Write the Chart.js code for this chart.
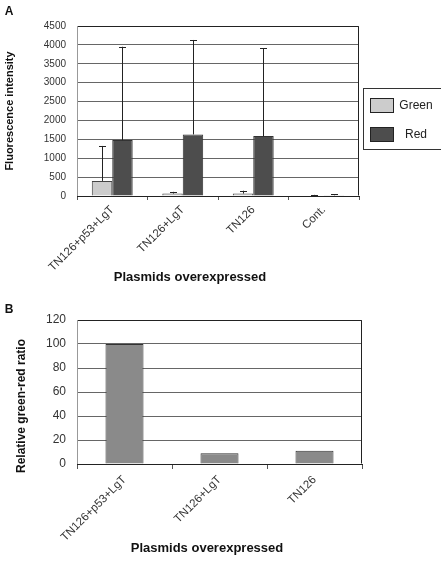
<!DOCTYPE html>
<html>
<head>
<meta charset="utf-8">
<script src="https://cdn.jsdelivr.net/npm/chart.js@4.4.1/dist/chart.umd.min.js"></script>
<style>
  html, body { margin: 0; padding: 0; background: #fff; }
  .panel { position: absolute; left: 0; width: 441px; }
  #panelA { top: 0; height: 292px; }
  #panelB { top: 293px; height: 268px; }
</style>
</head>
<body>
<div class="panel" id="panelA"><canvas id="chartA"></canvas></div>
<div class="panel" id="panelB"><canvas id="chartB"></canvas></div>
<script>
// panel A
const categoriesA = ['TN126+p53+LgT', 'TN126+LgT', 'TN126', 'Cont.'];
const greenValues = [400, 65, 65, 15];
const greenErrors = [925, 45, 75, 15];
const redValues = [1480, 1630, 1585, 20];
const redErrors = [2470, 2500, 2325, 20];
const ticksA = [0, 500, 1000, 1500, 2000, 2500, 3000, 3500, 4000, 4500];

// panel B
const categoriesB = ['TN126+p53+LgT', 'TN126+LgT', 'TN126'];
const ratioValues = [100, 9, 11];
const ticksB = [0, 20, 40, 60, 80, 100, 120];

const FONT = "'Liberation Sans', Arial, sans-serif";
Chart.defaults.font.family = FONT;
Chart.defaults.color = '#333';

// upper error whiskers, computed through the value scale
const errorBars = {
    id: 'errorBars',
    afterDatasetsDraw(chart) {
        const { ctx } = chart;
        const yScale = chart.scales.y;
        chart.data.datasets.forEach((ds, i) => {
            if (!ds.errors) return;
            const meta = chart.getDatasetMeta(i);
            meta.data.forEach((bar, j) => {
                const top = yScale.getPixelForValue(ds.data[j] + ds.errors[j]);
                ctx.save();
                ctx.strokeStyle = '#222';
                ctx.lineWidth = 1;
                ctx.beginPath();
                ctx.moveTo(Math.round(bar.x) + 0.5, bar.y);
                ctx.lineTo(Math.round(bar.x) + 0.5, top);
                ctx.moveTo(Math.round(bar.x) - 3, Math.round(top) + 0.5);
                ctx.lineTo(Math.round(bar.x) + 4, Math.round(top) + 0.5);
                ctx.stroke();
                ctx.restore();
            });
        });
    },
};

// plot frame
const frame = {
    id: 'frame',
    afterDraw(chart) {
        const { ctx, chartArea: a } = chart;
        ctx.save();
        ctx.strokeStyle = '#222';
        ctx.lineWidth = 1;
        ctx.beginPath();
        ctx.moveTo(a.left + 0.5, a.top + 0.5);
        ctx.lineTo(a.right - 0.5, a.top + 0.5);
        ctx.lineTo(a.right - 0.5, a.bottom - 0.5);
        ctx.stroke();
        ctx.strokeStyle = '#999';
        ctx.beginPath();
        ctx.moveTo(a.left + 0.5, a.top);
        ctx.lineTo(a.left + 0.5, a.bottom);
        ctx.stroke();
        ctx.restore();
    },
};

// free text: panel letters and captions
const captions = {
    id: 'captions',
    afterDraw(chart, args, opts) {
        const { ctx } = chart;
        (opts.items || []).forEach((it) => {
            ctx.save();
            ctx.font = it.font;
            ctx.fillStyle = '#111';
            ctx.textAlign = it.align || 'center';
            ctx.textBaseline = 'middle';
            ctx.translate(it.x, it.y);
            if (it.rotate) ctx.rotate(it.rotate);
            ctx.fillText(it.text, 0, 0);
            ctx.restore();
        });
    },
};

// boxed legend at the right of panel A
const boxLegend = {
    id: 'boxLegend',
    afterDraw(chart) {
        const { ctx } = chart;
        const x = 363, y = 88, w = 80, h = 61;
        ctx.save();
        ctx.strokeStyle = '#333';
        ctx.lineWidth = 1;
        ctx.strokeRect(x + 0.5, y + 0.5, w, h);
        chart.data.datasets.forEach((ds, i) => {
            const sy = y + 10 + i * 29;
            ctx.fillStyle = ds.backgroundColor;
            ctx.fillRect(x + 7, sy, 24, 15);
            ctx.strokeStyle = '#222';
            ctx.strokeRect(x + 7.5, sy + 0.5, 23, 14);
            ctx.fillStyle = '#222';
            ctx.font = '12px ' + FONT;
            ctx.textAlign = 'center';
            ctx.textBaseline = 'middle';
            ctx.fillText(ds.label, x + 53, sy + 8);
        });
        ctx.restore();
    },
};

const gridColor = '#666';
const plain = (v) => String(v);

new Chart(document.getElementById('chartA'), {
    type: 'bar',
    data: {
        labels: categoriesA,
        datasets: [
            {
                label: 'Green',
                data: greenValues,
                errors: greenErrors,
                backgroundColor: '#cccccc',
                borderColor: '#444',
                borderWidth: 1,
            },
            {
                label: 'Red',
                data: redValues,
                errors: redErrors,
                backgroundColor: '#4d4d4d',
                borderColor: '#333',
                borderWidth: 1,
            },
        ],
    },
    options: {
        responsive: true,
        maintainAspectRatio: false,
        animation: false,
        layout: { padding: { top: 26, right: 82, left: 0, bottom: 0 } },
        datasets: { bar: { categoryPercentage: 0.58, barPercentage: 1 } },
        scales: {
            x: {
                grid: { drawOnChartArea: false, tickLength: 4, color: '#555' },
                border: { color: '#222' },
                ticks: {
                    minRotation: 45, maxRotation: 45, autoSkip: false,
                    font: { size: 11.5 }, color: '#333', padding: 3,
                },
                afterFit: (s) => { s.height = 96; },
            },
            y: {
                min: 0, max: 4500,
                afterBuildTicks: (s) => { s.ticks = ticksA.map((v) => ({ value: v })); },
                grid: { color: gridColor, drawTicks: false },
                border: { display: false },
                ticks: { font: { size: 10 }, color: '#333', padding: 11, callback: plain },
                title: {
                    display: true, text: 'Fluorescence intensity',
                    font: { size: 11, weight: 'bold' }, color: '#111',
                    padding: { top: 3, bottom: 0 },
                },
                afterFit: (s) => { s.width = 77; },
            },
        },
        plugins: {
            legend: { display: false },
            tooltip: { enabled: false },
            captions: {
                items: [
                    { text: 'A', x: 9, y: 12, font: 'bold 12px ' + FONT },
                    { text: 'Plasmids overexpressed', x: 190, y: 277, font: 'bold 13px ' + FONT },
                ],
            },
        },
    },
    plugins: [errorBars, frame, captions, boxLegend],
});

new Chart(document.getElementById('chartB'), {
    type: 'bar',
    data: {
        labels: categoriesB,
        datasets: [
            {
                label: 'Relative green-red ratio',
                data: ratioValues,
                backgroundColor: '#8a8a8a',
                borderColor: '#333',
                borderWidth: 1,
            },
        ],
    },
    options: {
        responsive: true,
        maintainAspectRatio: false,
        animation: false,
        layout: { padding: { top: 27, right: 79, left: 0, bottom: 0 } },
        datasets: { bar: { categoryPercentage: 0.4, barPercentage: 1 } },
        scales: {
            x: {
                grid: { drawOnChartArea: false, tickLength: 5, color: '#555' },
                border: { color: '#222' },
                ticks: {
                    minRotation: 45, maxRotation: 45, autoSkip: false,
                    font: { size: 11.5 }, color: '#333', padding: 4,
                },
                afterFit: (s) => { s.height = 97; },
            },
            y: {
                min: 0, max: 120,
                afterBuildTicks: (s) => { s.ticks = ticksB.map((v) => ({ value: v })); },
                grid: { color: gridColor, drawTicks: false },
                border: { display: false },
                ticks: { font: { size: 12 }, color: '#333', padding: 11, callback: plain },
                afterFit: (s) => { s.width = 77; },
            },
        },
        plugins: {
            legend: { display: false },
            tooltip: { enabled: false },
            captions: {
                items: [
                    { text: 'B', x: 9, y: 17, font: 'bold 12px ' + FONT },
                    { text: 'Relative green-red ratio', x: 22, y: 113, rotate: -Math.PI / 2, font: 'bold 12px ' + FONT },
                    { text: 'Plasmids overexpressed', x: 207, y: 255, font: 'bold 13px ' + FONT },
                ],
            },
        },
    },
    plugins: [frame, captions],
});
</script>
</body>
</html>
